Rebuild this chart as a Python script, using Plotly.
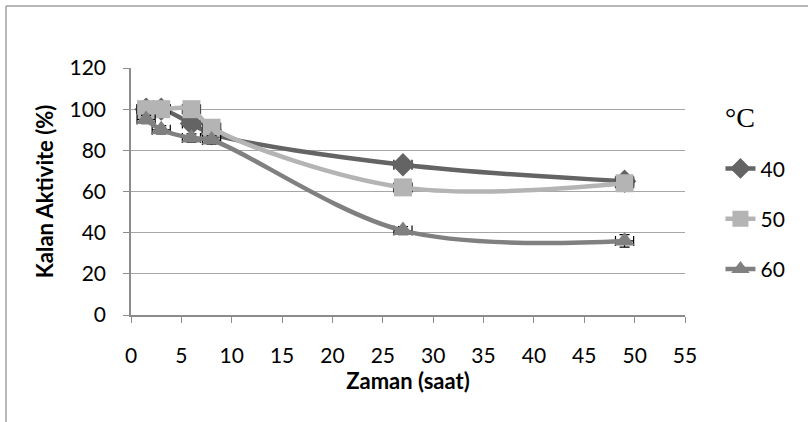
import plotly.graph_objects as go

time_h = [1.5, 3, 6, 8, 27, 49]
act_40 = [100, 100, 93, 88, 73, 65]
act_50 = [100, 100, 100, 91, 62, 64]
act_60 = [95, 90, 86, 85, 41, 36]
err_40 = [2, 2, 2, 2, 2, 2]
err_50 = [2, 2, 2, 2, 2, 2]
err_60 = [2, 2, 2, 2, 2, 3]
series_names = ["40", "50", "60"]
x_ticks = [0, 5, 10, 15, 20, 25, 30, 35, 40, 45, 50, 55]
y_ticks = [0, 20, 40, 60, 80, 100, 120]

colors = ["#646464", "#b4b4b4", "#808080"]
symbols = ["diamond", "square", "triangle-up"]

fig = go.Figure()
for name, ys, err, c, s in zip(series_names, [act_40, act_50, act_60],
                                [err_40, err_50, err_60], colors, symbols):
    fig.add_trace(go.Scatter(
        x=time_h, y=ys, name=name, mode="lines+markers",
        line=dict(color=c, width=4.5, shape="spline", smoothing=1),
        marker=dict(symbol=s, size=18, color=c),
        error_y=dict(type="data", array=err, color="black", thickness=1.2, width=5),
        error_x=dict(type="constant", value=0.9, color="black", thickness=1.2, width=5),
        legendgroup=name,
    ))

font_main = "Lato, Open Sans, sans-serif"
fig.update_layout(
    width=808, height=422,
    margin=dict(l=131, r=123, t=68, b=107),
    plot_bgcolor="white", paper_bgcolor="white",
    font=dict(family=font_main, size=21, color="black"),
    xaxis=dict(range=[0, 55], tickvals=x_ticks, showgrid=False, zeroline=False,
               showline=True, linecolor="#8c8c8c", linewidth=1.5,
               ticks="outside", ticklen=6, tickcolor="#8c8c8c",
               tickfont=dict(size=21), ticklabelstandoff=15,
               title=dict(text="<b>Zaman (saat)</b>", font=dict(size=22), standoff=2)),
    yaxis=dict(range=[0, 120], tickvals=y_ticks, showgrid=True, gridcolor="#a6a6a6",
               gridwidth=1.2, zeroline=False, showline=True, linecolor="#8c8c8c",
               linewidth=1.5, ticks="outside", ticklen=6, tickcolor="#8c8c8c",
               tickfont=dict(size=21), ticklabelstandoff=13,
               title=dict(text="<b>Kalan Aktivite (%)</b>", font=dict(size=22), standoff=10)),
    legend=dict(x=1.064, y=0.675, xanchor="left", yanchor="top",
                font=dict(size=21), tracegroupgap=20,
                bgcolor="rgba(0,0,0,0)"),
    showlegend=True,
)

fig.add_annotation(text="°C", xref="paper", yref="paper", x=1.10, y=0.80,
                   showarrow=False, xanchor="center", yanchor="middle",
                   font=dict(family="Liberation Serif, serif", size=28, color="black"))

# outer chart frame (partially cropped)
fig.add_shape(type="line", xref="paper", yref="paper",
              x0=-0.2256, x1=1.25, y0=1.251, y1=1.251,
              line=dict(color="#a0a0a0", width=1.5))
fig.add_shape(type="line", xref="paper", yref="paper",
              x0=-0.2256, x1=-0.2256, y0=1.251, y1=-0.45,
              line=dict(color="#a0a0a0", width=1.5))

fig.write_html("out.html")
